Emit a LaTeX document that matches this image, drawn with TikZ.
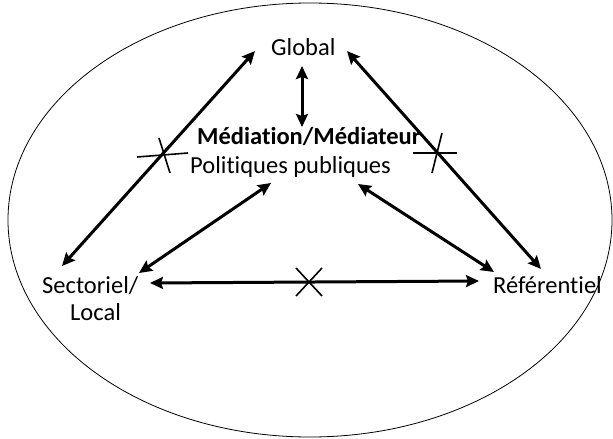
\documentclass[tikz,border=0pt]{standalone}
\usepackage{fontspec}
\setmainfont[Ligatures=NoCommon]{Carlito}
\usetikzlibrary{arrows.meta}
\begin{document}
\begin{tikzpicture}[x=1pt,y=-1pt,
  lbl/.style={inner sep=0pt,anchor=base west,font=\fontsize{24.5}{29}\selectfont},
  dbl/.style={line width=3pt,{Stealth[length=13pt,width=12pt,inset=2pt]}-{Stealth[length=13pt,width=12pt,inset=2pt]}},
  crs/.style={line width=1.6pt}]
\useasboundingbox (0,0) rectangle (613,439);
\draw[line width=0.8pt] (310,220) ellipse [x radius=302, y radius=217];
\node[lbl] (glob) at (271,55) {Global};
\node[lbl] (med) at (197,144) {\bfseries Médiation/Médiateur};
\node[lbl] (pol) at (190,173) {Politiques publiques};
\node[lbl] (sect) at (42,293) {Sectoriel/};
\node[lbl] (loc) at (70,320) {Local};
\node[lbl] (ref) at (493,293) {Référentiel};
% arrow ends
\coordinate (gb) at (302,66);
\coordinate (mt) at (302,127);
\coordinate (gl) at (255,51);
\coordinate (sl) at (62,266);
\coordinate (gr) at (347,51);
\coordinate (rr) at (541,269);
\coordinate (pl) at (271,183);
\coordinate (sr) at (139,273);
\coordinate (pr) at (358,184);
\coordinate (rl) at (494,272);
\coordinate (hl) at (150,283);
\coordinate (hr) at (479,281);
\draw[dbl] (gb) -- (mt);
\draw[dbl] (gl) -- (sl);
\draw[dbl] (gr) -- (rr);
\draw[dbl] (pl) -- (sr);
\draw[dbl] (pr) -- (rl);
\draw[dbl] (hl) -- (hr);
% crosses
\coordinate (xa1) at (296,268); \coordinate (xa2) at (322,296);
\coordinate (xb1) at (296,296); \coordinate (xb2) at (322,268);
\draw[crs] (xa1) -- (xa2);
\draw[crs] (xb1) -- (xb2);
\coordinate (la1) at (137,157); \coordinate (la2) at (188,153);
\coordinate (lb1) at (159,138); \coordinate (lb2) at (170,173);
\draw[crs] (la1) -- (la2);
\draw[crs] (lb1) -- (lb2);
\coordinate (ra1) at (413,153); \coordinate (ra2) at (457,153);
\coordinate (rb1) at (442,133); \coordinate (rb2) at (432,173);
\draw[crs] (ra1) -- (ra2);
\draw[crs] (rb1) -- (rb2);
\end{tikzpicture}
\end{document}
